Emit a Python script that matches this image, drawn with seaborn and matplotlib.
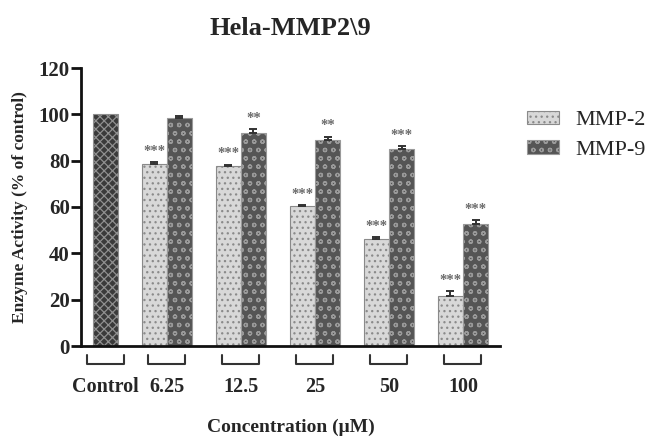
import numpy as np
import pandas as pd
import matplotlib.pyplot as plt
import seaborn as sns
from matplotlib.patches import Patch

# data
concs = ['Control', '6.25', '12.5', '25', '50', '100']
mmp2 = [np.nan, 78.7, 77.7, 60.4, 46.4, 21.5]
mmp2_err = [0, 0.6, 0.6, 0.5, 0.6, 2.1]
mmp9 = [100, 98.6, 92.0, 89.0, 85.0, 52.8]
mmp9_err = [0, 0.5, 1.6, 1.4, 1.4, 1.6]
mmp2_sig = ['', '***', '***', '***', '***', '***']
mmp9_sig = ['', '', '**', '**', '***', '***']
enzymes = ['MMP-2', 'MMP-9']

rows = []
for i, c in enumerate(concs):
    if not np.isnan(mmp2[i]):
        rows.append((c, 'MMP-2', mmp2[i]))
    rows.append((c, 'MMP-9', mmp9[i]))
df = pd.DataFrame(rows, columns=['conc', 'enzyme', 'activity'])

vals = {'MMP-2': mmp2, 'MMP-9': mmp9}
errs = {'MMP-2': mmp2_err, 'MMP-9': mmp9_err}
sigs = {'MMP-2': mmp2_sig, 'MMP-9': mmp9_sig}

# bar styles
styles = {
    'MMP-2': dict(facecolor='#d8d8d8', edgecolor='#8a8a8a', hatch='...'),
    'MMP-9': dict(facecolor='#555555', edgecolor='#9a9a9a', hatch='oo'),
    'Control': dict(facecolor='#3a3a3a', edgecolor='#8f8f8f', hatch='xxxx'),
}

sns.set_style('ticks')
plt.rcParams['font.family'] = ['Liberation Serif', 'DejaVu Serif']
plt.rcParams['hatch.linewidth'] = 0.9

fig = plt.figure(figsize=(6.52, 4.41), dpi=100)
ax = fig.add_axes([81 / 652, 1 - 346 / 441, 419 / 652, 278 / 441])

sns.barplot(data=df, x='conc', y='activity', hue='enzyme', order=concs,
            hue_order=enzymes, palette={'MMP-2': '#d8d8d8', 'MMP-9': '#555555'},
            saturation=1, width=0.68, gap=0, errorbar=None, legend=False, ax=ax)

# style each bar, add error bars and stars
centers = {}
for p in ax.patches:
    cx = p.get_x() + p.get_width() / 2
    i = int(round(cx))
    hue = 'MMP-2' if cx < i else 'MMP-9'
    st = styles['Control'] if concs[i] == 'Control' else styles[hue]
    p.set_facecolor(st['facecolor'])
    p.set_edgecolor(st['edgecolor'])
    p.set_hatch(st['hatch'])
    p.set_linewidth(0.8)
    centers.setdefault(i, []).append(cx)
    v = vals[hue][i]
    e = errs[hue][i]
    if e > 0:
        ax.errorbar(cx, v, yerr=[[0], [e]], fmt='none', ecolor='#333333',
                    elinewidth=1.4, capsize=3, capthick=1.4, zorder=3)
    if sigs[hue][i]:
        ax.annotate(sigs[hue][i], (cx, v + e), xytext=(0, 3),
                    textcoords='offset points', ha='center', va='bottom',
                    fontsize=10.5, fontweight='bold', color='#6a6a6a')

ax.set_xlim(-0.16, 5.5)
ax.set_ylim(0, 120)
ax.set_yticks(range(0, 121, 20))

# tick labels at the middle of each group, with brackets under the groups
ticks = [np.mean(centers[i]) for i in range(len(concs))]
ax.set_xticks(ticks, concs)
trans = ax.get_xaxis_transform()
for t in ticks:
    ax.plot([t - 0.25, t - 0.25, t + 0.25, t + 0.25],
            [-0.032, -0.065, -0.065, -0.032], transform=trans,
            clip_on=False, color='#333333', lw=1.5)

sns.despine(ax=ax)
for s in ['left', 'bottom']:
    ax.spines[s].set_linewidth(2)
    ax.spines[s].set_color('#111111')
ax.tick_params(axis='x', length=0, pad=22, labelsize=14.5)
ax.tick_params(axis='y', length=7, width=2, color='#111111', labelsize=15, pad=1)
for lab in ax.get_xticklabels() + ax.get_yticklabels():
    lab.set_fontweight('bold')

ax.set_xlabel('Concentration (\u03bcM)', fontsize=14, fontweight='bold', labelpad=16)
ax.set_ylabel('Enzyme Activity (% of control)', fontsize=12.5, fontweight='bold', labelpad=8)
ax.set_title('Hela-MMP2\\9', fontsize=19, fontweight='bold', pad=24)

handles = [Patch(label=h, linewidth=0.8, **styles[h]) for h in enzymes]
fig.legend(handles=handles, loc='upper left', bbox_to_anchor=(520 / 652, 1 - 104 / 441),
           frameon=False, fontsize=16, handlelength=1.45, handleheight=0.55,
           handletextpad=0.75, labelspacing=0.45, borderaxespad=0, borderpad=0.3)

fig.savefig('out.png', dpi=100)
